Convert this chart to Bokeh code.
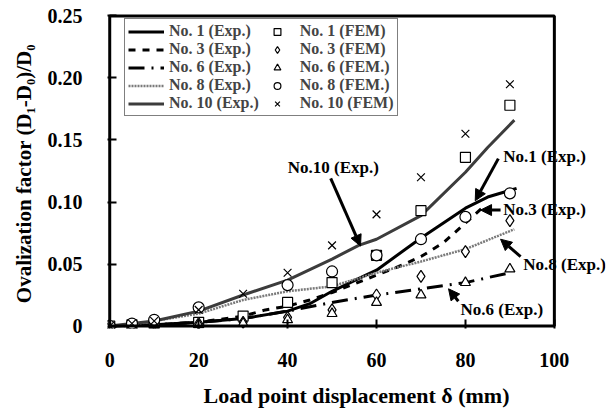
from bokeh.plotting import figure
from bokeh.models import (Range1d, FixedTicker, Legend, LegendItem, Label, Arrow, NormalHead,
                          BoxAnnotation)
from bokeh.embed import file_html
from bokeh.resources import INLINE

# ---- data ----
exp1_x = [0, 10, 20, 30, 40, 45, 50, 57, 60, 70, 80, 85, 91.5]
exp1_y = [0, 0.001, 0.003, 0.006, 0.012, 0.018, 0.028, 0.040, 0.045, 0.071, 0.095, 0.104, 0.111]
exp3_x = [0, 10, 20, 30, 35, 40, 45, 50, 55, 60, 65, 70, 75, 80, 84]
exp3_y = [0, 0.001, 0.003, 0.008, 0.013, 0.016, 0.021, 0.027, 0.034, 0.041, 0.048, 0.056, 0.067, 0.083, 0.096]
exp6_x = [0, 10, 20, 30, 40, 50, 60, 70, 80, 90]
exp6_y = [0, 0.001, 0.003, 0.006, 0.012, 0.019, 0.025, 0.030, 0.035, 0.043]
exp8_x = [0, 5, 10, 20, 30, 40, 50, 60, 70, 80, 91]
exp8_y = [0, 0.001, 0.004, 0.010, 0.021, 0.028, 0.032, 0.043, 0.052, 0.062, 0.078]
exp10_x = [0, 5, 10, 20, 30, 40, 50, 56, 60, 70, 80, 85, 91]
exp10_y = [0, 0.002, 0.004, 0.012, 0.025, 0.037, 0.054, 0.065, 0.070, 0.089, 0.124, 0.144, 0.166]

fem1_x = [0, 5, 10, 20, 30, 40, 50, 60, 70, 80, 90]
fem1_y = [0, 0.001, 0.002, 0.003, 0.008, 0.019, 0.035, 0.057, 0.093, 0.136, 0.178]
fem3_x = [0, 5, 10, 20, 30, 40, 50, 60, 70, 80, 90]
fem3_y = [0, 0.001, 0.002, 0.002, 0.003, 0.007, 0.013, 0.025, 0.040, 0.060, 0.085]
fem6_x = [0, 5, 10, 20, 30, 40, 50, 60, 70, 80, 90]
fem6_y = [0, 0.000, 0.001, 0.001, 0.002, 0.005, 0.010, 0.019, 0.025, 0.035, 0.046]
fem8_x = [0, 5, 10, 20, 40, 50, 60, 70, 80, 90]
fem8_y = [0, 0.002, 0.005, 0.015, 0.033, 0.044, 0.057, 0.070, 0.088, 0.107]
fem10_x = [0, 5, 10, 20, 30, 40, 50, 60, 70, 80, 90]
fem10_y = [0, 0.002, 0.004, 0.013, 0.026, 0.043, 0.065, 0.090, 0.120, 0.155, 0.195]

x_ticks = [0, 20, 40, 60, 80, 100]
y_ticks = [0, 0.05, 0.10, 0.15, 0.20, 0.25]
y_tick_labels = ["0", "0.05", "0.10", "0.15", "0.20", "0.25"]

FONT = "Liberation Serif"

p = figure(width=616, height=414, output_backend="svg", toolbar_location=None,
           x_range=Range1d(-0.5, 111.5), y_range=Range1d(-0.002, 0.252),
           min_border_left=107, min_border_right=11, min_border_top=13, min_border_bottom=86)
p.grid.visible = False
p.outline_line_color = None
p.background_fill_color = "white"

# plot frame drawn as a box over the 0..100 / 0..0.25 area
p.add_layout(BoxAnnotation(left=0, right=100, bottom=0, top=0.25, fill_alpha=0,
                           line_color="black", line_width=3, line_alpha=1))

for ax in (p.xaxis[0], p.yaxis[0]):
    ax.axis_line_color = None
    ax.major_tick_in = 9
    ax.major_tick_out = 0
    ax.major_tick_line_width = 2
    ax.minor_tick_line_color = None
    ax.major_label_text_font = FONT
    ax.major_label_text_font_style = "bold"
    ax.major_label_text_font_size = "20px"
    ax.major_label_text_color = "black"
    ax.axis_label_text_font = FONT
    ax.axis_label_text_font_style = "bold"
    ax.axis_label_text_color = "black"

p.xaxis.axis_label_text_font_size = "22px"
p.yaxis.axis_label_text_font_size = "21px"
p.xaxis.ticker = FixedTicker(ticks=x_ticks)
p.yaxis.ticker = FixedTicker(ticks=y_ticks)
p.yaxis.major_label_overrides = {t: s for t, s in zip(y_ticks, y_tick_labels)}
p.xaxis.major_label_standoff = 24
p.yaxis.major_label_standoff = 25
p.xaxis.axis_label = "Load point displacement δ (mm)"
p.yaxis.axis_label = "Ovalization factor  (D\u2081-D\u2080)/D\u2080"
p.xaxis.axis_label_standoff = 13
p.yaxis.axis_label_standoff = 9

r1 = p.line(exp1_x, exp1_y, line_color="black", line_width=3)
r3 = p.line(exp3_x, exp3_y, line_color="black", line_width=3, line_dash="7 7")
r6 = p.line(exp6_x, exp6_y, line_color="black", line_width=3, line_dash="16 7 2 7")
r8 = p.line(exp8_x, exp8_y, line_color="#7a7a7a", line_width=2.5, line_dash="2 1")
r10 = p.line(exp10_x, exp10_y, line_color="#3c3c3c", line_width=3)

ms = 10
f1 = p.scatter(fem1_x, fem1_y, marker="square", size=ms, fill_color="white", line_color="black", line_width=1.2)
f3 = p.scatter(fem3_x, fem3_y, marker="diamond", size=ms + 2, fill_color="white", line_color="black", line_width=1.2)
f6 = p.scatter(fem6_x, fem6_y, marker="triangle", size=ms, fill_color="white", line_color="black", line_width=1.2)
f8 = p.scatter(fem8_x, fem8_y, marker="circle", size=ms + 1, fill_color="white", line_color="black", line_width=1.2)
f10 = p.scatter(fem10_x, fem10_y, marker="x", size=ms + 1, line_color="black", line_width=1.2)

items = [
    LegendItem(label="No. 1 (Exp.)", renderers=[r1]),
    LegendItem(label="No. 3 (Exp.)", renderers=[r3]),
    LegendItem(label="No. 6 (Exp.)", renderers=[r6]),
    LegendItem(label="No. 8 (Exp.)", renderers=[r8]),
    LegendItem(label="No. 10 (Exp.)", renderers=[r10]),
    LegendItem(label="No. 1 (FEM)", renderers=[f1]),
    LegendItem(label="No. 3 (FEM)", renderers=[f3]),
    LegendItem(label="No. 6 (FEM.)", renderers=[f6]),
    LegendItem(label="No. 8 (FEM.)", renderers=[f8]),
    LegendItem(label="No. 10 (FEM)", renderers=[f10]),
]
legend = Legend(items=items, ncols=2, location=(17, 212), margin=0,
                label_text_font=FONT, label_text_font_style="bold", label_text_font_size="16px",
                glyph_width=36, glyph_height=17, label_height=14, spacing=0, padding=3,
                label_standoff=5, border_line_color="black", border_line_width=1,
                background_fill_alpha=1.0)
p.add_layout(legend)

annots = [
    ("No.10 (Exp.)", 50.3, 0.128, "center", (49.7, 0.119, 56.4, 0.0645)),
    ("No.1 (Exp.)", 88.5, 0.137, "left", (87.4, 0.135, 82.2, 0.101)),
    ("No.3 (Exp.)", 88.5, 0.094, "left", (87.9, 0.0935, 83.4, 0.0935)),
    ("No.8 (Exp.)", 93.0, 0.050, "left", (92.4, 0.056, 87.9, 0.070)),
    ("No.6 (Exp.)", 78.9, 0.013, "left", (78.4, 0.020, 76.2, 0.030)),
]
for text, tx, ty, align, (xs, ys, xe, ye) in annots:
    p.add_layout(Label(x=tx, y=ty, text=text, text_font=FONT, text_font_style="bold",
                       text_font_size="17px", text_align=align, text_baseline="middle",
                       text_color="black"))
    p.add_layout(Arrow(end=NormalHead(size=11, fill_color="black", line_color="black"),
                       x_start=xs, y_start=ys, x_end=xe, y_end=ye,
                       line_color="black", line_width=3))

open("out.html", "w").write(file_html(p, INLINE))
